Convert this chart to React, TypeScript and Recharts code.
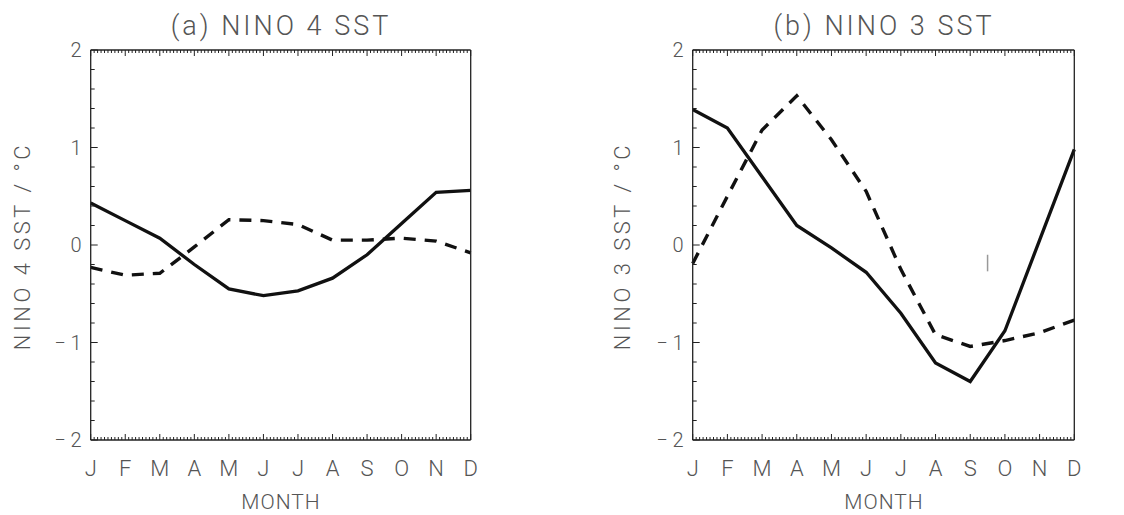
import React from 'react';
import { LineChart, Line, XAxis, YAxis, ReferenceLine } from 'recharts';

const MONTHS = ['J', 'F', 'M', 'A', 'M', 'J', 'J', 'A', 'S', 'O', 'N', 'D'];
const MONTH_INDEX = [0, 1, 2, 3, 4, 5, 6, 7, 8, 9, 10, 11];

const NINO4_SOLID = [0.43, 0.25, 0.07, -0.2, -0.45, -0.52, -0.47, -0.34, -0.1, 0.22, 0.54, 0.56];
const NINO4_DASHED = [-0.23, -0.31, -0.29, -0.02, 0.26, 0.25, 0.21, 0.05, 0.05, 0.07, 0.04, -0.08];

const NINO3_SOLID = [1.39, 1.2, 0.7, 0.2, -0.03, -0.28, -0.7, -1.21, -1.4, -0.88, 0.05, 0.98];
const NINO3_DASHED = [-0.19, 0.5, 1.18, 1.53, 1.08, 0.55, -0.25, -0.92, -1.04, -0.98, -0.9, -0.77];

const Y_MAJOR = [-2, -1, 0, 1, 2];
const Y_SIGNS = ['\u2212', '\u2212', '', '', ''];
const Y_DIGITS = ['2', '1', '0', '1', '2'];

const X_TICKS = Array.from({ length: 111 }, (_, k) => k / 10);
const Y_TICKS = Array.from({ length: 21 }, (_, k) => Math.round((-2 + k * 0.2) * 10) / 10);

const TEXT_COLOR = '#555';
const AXIS_COLOR = '#222';
const FONT = 'Roboto, "DejaVu Sans", sans-serif';

const isMajor = (v: number) => Math.abs(v - Math.round(v)) < 1e-6;

const BottomTick = (props: any) => {
  const { x, y, payload } = props;
  const v = payload.value as number;
  const major = isMajor(v);
  return (
    <g>
      <line x1={x} x2={x} y1={y} y2={y - (major ? 6 : 3)} stroke={AXIS_COLOR} strokeWidth={1} />
      {major && (
        <text x={x} y={y + 36} textAnchor="middle" fontSize={22} fontFamily={FONT} fontWeight={300} fill={TEXT_COLOR}>
          {MONTHS[Math.round(v)]}
        </text>
      )}
    </g>
  );
};

const TopTick = (props: any) => {
  const { x, y, payload } = props;
  const v = payload.value as number;
  const major = isMajor(v);
  return <line x1={x} x2={x} y1={y} y2={y + (major ? 6 : 3)} stroke={AXIS_COLOR} strokeWidth={1} />;
};

const LeftTick = (props: any) => {
  const { x, y, payload } = props;
  const v = payload.value as number;
  const major = isMajor(v);
  const idx = Y_MAJOR.indexOf(Math.round(v));
  return (
    <g>
      <line x1={x} x2={x + (major ? 7 : 4)} y1={y} y2={y} stroke={AXIS_COLOR} strokeWidth={1} />
      {major && (
        <text x={x - 9} y={y + 7} textAnchor="end" fontSize={20} fontFamily={FONT} fontWeight={300} fill={TEXT_COLOR}>
          {Y_SIGNS[idx] ? <tspan>{Y_SIGNS[idx]}</tspan> : null}
          <tspan dx={Y_SIGNS[idx] ? 5 : 0}>{Y_DIGITS[idx]}</tspan>
        </text>
      )}
    </g>
  );
};

const RightTick = (props: any) => {
  const { x, y, payload } = props;
  const v = payload.value as number;
  const major = isMajor(v);
  return <line x1={x} x2={x - (major ? 7 : 4)} y1={y} y2={y} stroke={AXIS_COLOR} strokeWidth={1} />;
};

type PanelProps = {
  solid: number[];
  dashed: number[];
  left: number;
  marginLeft: number;
  marginRight: number;
  artifact?: boolean;
};

const Panel = ({ solid, dashed, left, marginLeft, marginRight, artifact }: PanelProps) => {
  const data = MONTH_INDEX.map((m, i) => ({ m, solid: solid[i], dashed: dashed[i] }));
  return (
    <div style={{ position: 'absolute', left, top: 0 }}>
      <LineChart
        width={562}
        height={515}
        data={data}
        margin={{ top: 20, bottom: 45, left: marginLeft, right: marginRight }}
      >
        <XAxis
          xAxisId="b"
          dataKey="m"
          type="number"
          orientation="bottom"
          domain={[0, 11]}
          ticks={X_TICKS}
          interval={0}
          tickSize={0}
          tickMargin={0}
          height={30}
          tick={<BottomTick />}
          tickLine={false}
          axisLine={{ stroke: AXIS_COLOR, strokeWidth: 1.3 }}
        />
        <XAxis
          xAxisId="t"
          dataKey="m"
          type="number"
          orientation="top"
          domain={[0, 11]}
          ticks={X_TICKS}
          interval={0}
          tickSize={0}
          tickMargin={0}
          height={30}
          tick={<TopTick />}
          tickLine={false}
          axisLine={{ stroke: AXIS_COLOR, strokeWidth: 1.3 }}
        />
        <YAxis
          yAxisId="l"
          type="number"
          orientation="left"
          domain={[-2, 2]}
          ticks={Y_TICKS}
          interval={0}
          tickSize={0}
          tickMargin={0}
          width={60}
          tick={<LeftTick />}
          tickLine={false}
          axisLine={{ stroke: AXIS_COLOR, strokeWidth: 1.3 }}
        />
        <YAxis
          yAxisId="r"
          type="number"
          orientation="right"
          domain={[-2, 2]}
          ticks={Y_TICKS}
          interval={0}
          tickSize={0}
          tickMargin={0}
          width={10}
          tick={<RightTick />}
          tickLine={false}
          axisLine={{ stroke: AXIS_COLOR, strokeWidth: 1.3 }}
        />
        {artifact && (
          <ReferenceLine
            xAxisId="b"
            yAxisId="l"
            segment={[{ x: 8.5, y: -0.1 }, { x: 8.5, y: -0.27 }]}
            stroke="#999"
            strokeWidth={1.5}
          />
        )}
        <Line
          xAxisId="b"
          yAxisId="l"
          type="linear"
          dataKey="dashed"
          stroke="#111"
          strokeWidth={3.4}
          strokeDasharray="12 9"
          dot={false}
          isAnimationActive={false}
        />
        <Line
          xAxisId="b"
          yAxisId="l"
          type="linear"
          dataKey="solid"
          stroke="#111"
          strokeWidth={3.3}
          dot={false}
          isAnimationActive={false}
        />
      </LineChart>
    </div>
  );
};

const TITLES = ['(a) NINO 4 SST', '(b) NINO 3 SST'];
const Y_TITLES = ['NINO 4 SST / \u00B0C', 'NINO 3 SST / \u00B0C'];
const X_TITLE = 'MONTH';

export default function App() {
  return (
    <div style={{ position: 'absolute', left: 0, top: 0, width: 1124, height: 515, background: '#fff' }}>
      <Panel solid={NINO4_SOLID} dashed={NINO4_DASHED} left={0} marginLeft={30.7} marginRight={81.3} />
      <Panel solid={NINO3_SOLID} dashed={NINO3_DASHED} left={562} marginLeft={70.7} marginRight={39.7} artifact />
      <svg width={1124} height={515} style={{ position: 'absolute', left: 0, top: 0, pointerEvents: 'none' }}>
        <g fontFamily={FONT} fontWeight={300} fill={TEXT_COLOR}>
          <text x={281} y={35} textAnchor="middle" fontSize={27} letterSpacing={3}>{TITLES[0]}</text>
          <text x={884} y={35} textAnchor="middle" fontSize={27} letterSpacing={3}>{TITLES[1]}</text>
          <text x={281} y={509} textAnchor="middle" fontSize={21} letterSpacing={1}>{X_TITLE}</text>
          <text x={884} y={509} textAnchor="middle" fontSize={21} letterSpacing={1}>{X_TITLE}</text>
          <text x={30} y={246} textAnchor="middle" fontSize={22} letterSpacing={3.5} transform="rotate(-90 30 246)">{Y_TITLES[0]}</text>
          <text x={630} y={246} textAnchor="middle" fontSize={22} letterSpacing={3.5} transform="rotate(-90 630 246)">{Y_TITLES[1]}</text>
        </g>
      </svg>
    </div>
  );
}
